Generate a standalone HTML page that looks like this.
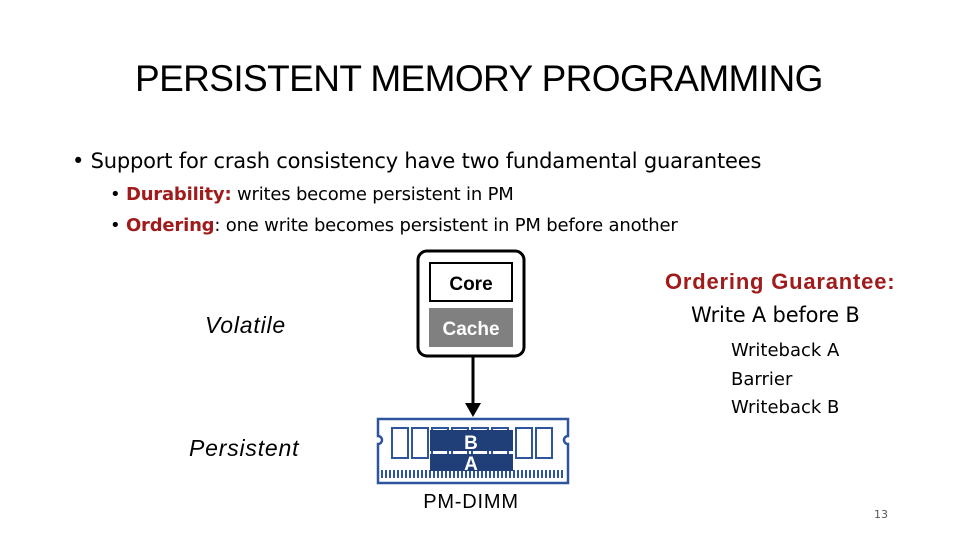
<!DOCTYPE html>
<html><head><meta charset="utf-8"><style>
body{margin:0;width:960px;height:540px;background:#fff;position:relative;overflow:hidden;font-family:"DejaVu Sans",sans-serif}
.t{position:absolute;white-space:nowrap}
</style></head><body>
<div class="t" style="left:135px;top:58px;font-size:37px;letter-spacing:-0.6px;font-family:'Liberation Sans',sans-serif">PERSISTENT MEMORY PROGRAMMING</div>
<div class="t" style="left:72px;top:149px;font-size:21px;letter-spacing:-0.2px">• Support for crash consistency have two fundamental guarantees</div>
<div class="t" style="left:110px;top:184px;font-size:18px;letter-spacing:-0.2px">• <b style="color:#a01c1c">Durability:</b> writes become persistent in PM</div>
<div class="t" style="left:110px;top:215px;font-size:18px;letter-spacing:-0.2px">• <b style="color:#a01c1c">Ordering</b>: one write becomes persistent in PM before another</div>
<div class="t" style="left:205px;top:312px;font-size:23px;font-style:italic;letter-spacing:0.8px;font-family:'Liberation Sans',sans-serif">Volatile</div>
<div class="t" style="left:189px;top:435px;font-size:23px;font-style:italic;letter-spacing:0.8px;font-family:'Liberation Sans',sans-serif">Persistent</div>
<svg width="960" height="540" style="position:absolute;left:0;top:0">
<rect x="418" y="251" width="106" height="105" rx="9" fill="#fff" stroke="#000" stroke-width="3"/>
<rect x="430" y="263" width="82" height="38" fill="#fff" stroke="#000" stroke-width="2"/>
<rect x="429" y="308" width="84" height="39" fill="#808080"/>
<text x="471" y="290" font-size="19" font-weight="bold" text-anchor="middle" font-family="Liberation Sans">Core</text>
<text x="471" y="335" font-size="19" font-weight="bold" text-anchor="middle" fill="#fff" font-family="Liberation Sans">Cache</text>
<line x1="473" y1="357" x2="473" y2="405" stroke="#000" stroke-width="3"/>
<polygon points="465,403 481,403 473,417" fill="#000"/>
<path d="M378,419 H568 V436 A4,4 0 0 0 568,444 V483 H378 V444 A4,4 0 0 0 378,436 Z" fill="none" stroke="#2e54a0" stroke-width="2.5"/>
<g fill="none" stroke="#2e54a0" stroke-width="2">
<rect x="392" y="428" width="16" height="30"/><rect x="412" y="428" width="16" height="30"/>
<rect x="432" y="428" width="16" height="30"/><rect x="452" y="428" width="16" height="30"/>
<rect x="472" y="428" width="16" height="30"/><rect x="492" y="428" width="16" height="30"/>
<rect x="516" y="428" width="16" height="30"/><rect x="536" y="428" width="16" height="30"/>
</g>
<line x1="381" y1="474" x2="565" y2="474" stroke="#2e54a0" stroke-width="8" stroke-dasharray="2 2"/>
<rect x="430" y="430" width="83" height="21" fill="#203f78"/>
<rect x="430" y="454" width="83" height="17" fill="#203f78"/>
<text x="471" y="449" font-size="19" font-weight="bold" text-anchor="middle" fill="#fff" font-family="Liberation Sans">B</text>
<text x="471" y="470" font-size="19" font-weight="bold" text-anchor="middle" fill="#fff" font-family="Liberation Sans">A</text>
<text x="471" y="508" font-size="20" text-anchor="middle" letter-spacing="0.8" font-family="Liberation Sans">PM-DIMM</text>
</svg>
<div class="t" style="left:665px;top:269px;font-size:22px;color:#a01c1c;font-weight:bold;letter-spacing:-0.3px;font-family:'Liberation Sans',sans-serif;letter-spacing:0.8px">Ordering Guarantee:</div>
<div class="t" style="left:691px;top:303px;font-size:21px;letter-spacing:-0.2px">Write A before B</div>
<div class="t" style="left:731px;top:337px;font-size:18px;line-height:28.5px">Writeback A<br>Barrier<br>Writeback B</div>
<div class="t" style="left:874px;top:508px;font-size:11px;color:#555">13</div>
</body></html>
